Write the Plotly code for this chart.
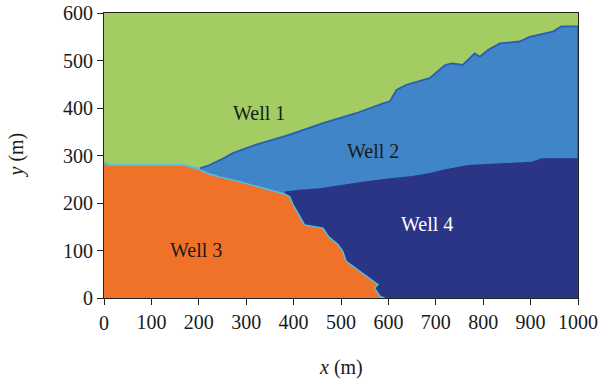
import plotly.graph_objects as go

# Boundary between Well 1 (top) and the other wells
top_x = [0, 10, 170, 202, 223, 250, 272, 321, 392, 462, 532, 589, 603, 617, 638, 687, 719, 733, 757, 782, 793, 810, 835, 877, 898, 947, 965, 1000]
top_y = [288, 280, 280, 273, 280, 293, 305, 323, 344, 368, 389, 410, 414, 438, 449, 463, 490, 494, 491, 515, 508, 522, 536, 540, 550, 561, 572, 572]

# Boundary between Well 2 and Well 4
mid_x = [381, 413, 455, 500, 546, 603, 650, 687, 715, 768, 835, 902, 923, 1000]
mid_y = [224, 228, 231, 238, 245, 252, 257, 263, 270, 280, 284, 287, 294, 294]

# Upper boundary of Well 3
w3_x = [0, 10, 170, 202, 223, 244, 286, 350, 381, 392, 399, 413, 423, 462, 473, 494, 504, 511, 539, 567, 578, 571, 583, 592]
w3_y = [285, 280, 280, 270, 261, 255, 245, 228, 219, 213, 196, 172, 154, 147, 130, 112, 98, 77, 56, 35, 28, 21, 3, 0]

labels = ["Well 1", "Well 2", "Well 3", "Well 4"]
label_x = [328, 567, 194, 681]
label_y = [390, 310, 101, 156]
label_col = ["#1a1a1a", "#1a1a1a", "#1a1a1a", "#ffffff"]

x_ticks = [0, 100, 200, 300, 400, 500, 600, 700, 800, 900, 1000]
y_ticks = [0, 100, 200, 300, 400, 500, 600]

GREEN = "#a3cd63"
BLUE = "#3f85c7"
NAVY = "#2b3585"
ORANGE = "#f07228"
FONT = "Liberation Serif"
FS = 20

fig = go.Figure()

i0 = top_x.index(202)
bx = top_x[i0:] + [1000, 202]
by = top_y[i0:] + [0, 0]
fig.add_trace(go.Scatter(x=bx, y=by, fill="toself", fillcolor=BLUE, mode="lines",
                         line=dict(color="#2a5db3", width=1.8), hoverinfo="skip"))
nx = mid_x + [1000, mid_x[0]]
ny = mid_y + [0, 0]
fig.add_trace(go.Scatter(x=nx, y=ny, fill="toself", fillcolor=NAVY, mode="lines",
                         line=dict(color=NAVY, width=0), hoverinfo="skip"))
ox = [0] + w3_x + [0]
oy = [0] + w3_y + [0]
fig.add_trace(go.Scatter(x=ox, y=oy, fill="toself", fillcolor=ORANGE, mode="lines",
                         line=dict(color=ORANGE, width=0), hoverinfo="skip"))
fig.add_trace(go.Scatter(x=w3_x, y=w3_y, mode="lines",
                         line=dict(color="#4fc3e6", width=1.4), hoverinfo="skip"))
fig.add_trace(go.Scatter(x=top_x[:4], y=top_y[:4], mode="lines",
                         line=dict(color="#4fc3e6", width=1.4), hoverinfo="skip"))

for t, xx, yy, c in zip(labels, label_x, label_y, label_col):
    fig.add_annotation(x=xx, y=yy, text=t, showarrow=False,
                       font=dict(family=FONT, size=FS, color=c))

fig.add_annotation(xref="paper", yref="paper", x=0.5, y=0, xanchor="center", yanchor="middle",
                   yshift=-69, text="<i>x</i> (m)", showarrow=False,
                   font=dict(family=FONT, size=FS, color="#1a1a1a"))
fig.add_annotation(xref="paper", yref="paper", x=0, y=0.5, xanchor="center", yanchor="middle",
                   xshift=-88, text="<i>y</i> (m)", showarrow=False, textangle=-90,
                   font=dict(family=FONT, size=FS, color="#1a1a1a"))
fig.add_annotation(xref="x", yref="paper", x=0, y=0, xanchor="center", yanchor="middle",
                   yshift=-25, text="0", showarrow=False,
                   font=dict(family=FONT, size=FS, color="#1a1a1a"))

axis_common = dict(showgrid=False, zeroline=False, showline=True, linecolor="#222",
                   linewidth=1, mirror=True, ticks="outside", ticklen=6, automargin=False,
                   tickcolor="#222", tickfont=dict(family=FONT, size=FS, color="#1a1a1a"))

fig.update_layout(
    width=600, height=383,
    margin=dict(l=104, r=22, t=13, b=85),
    paper_bgcolor="white", plot_bgcolor=GREEN,
    showlegend=False,
    xaxis=dict(range=[0, 1000], tickvals=x_ticks,
               ticktext=["" if v == 0 else str(v) for v in x_ticks], **axis_common),
    yaxis=dict(range=[0, 600], tickvals=y_ticks, ticktext=[str(v) for v in y_ticks], **axis_common),
)

fig.write_html("out.html", config={"displayModeBar": False},
               post_script="document.body.style.margin='0';")
